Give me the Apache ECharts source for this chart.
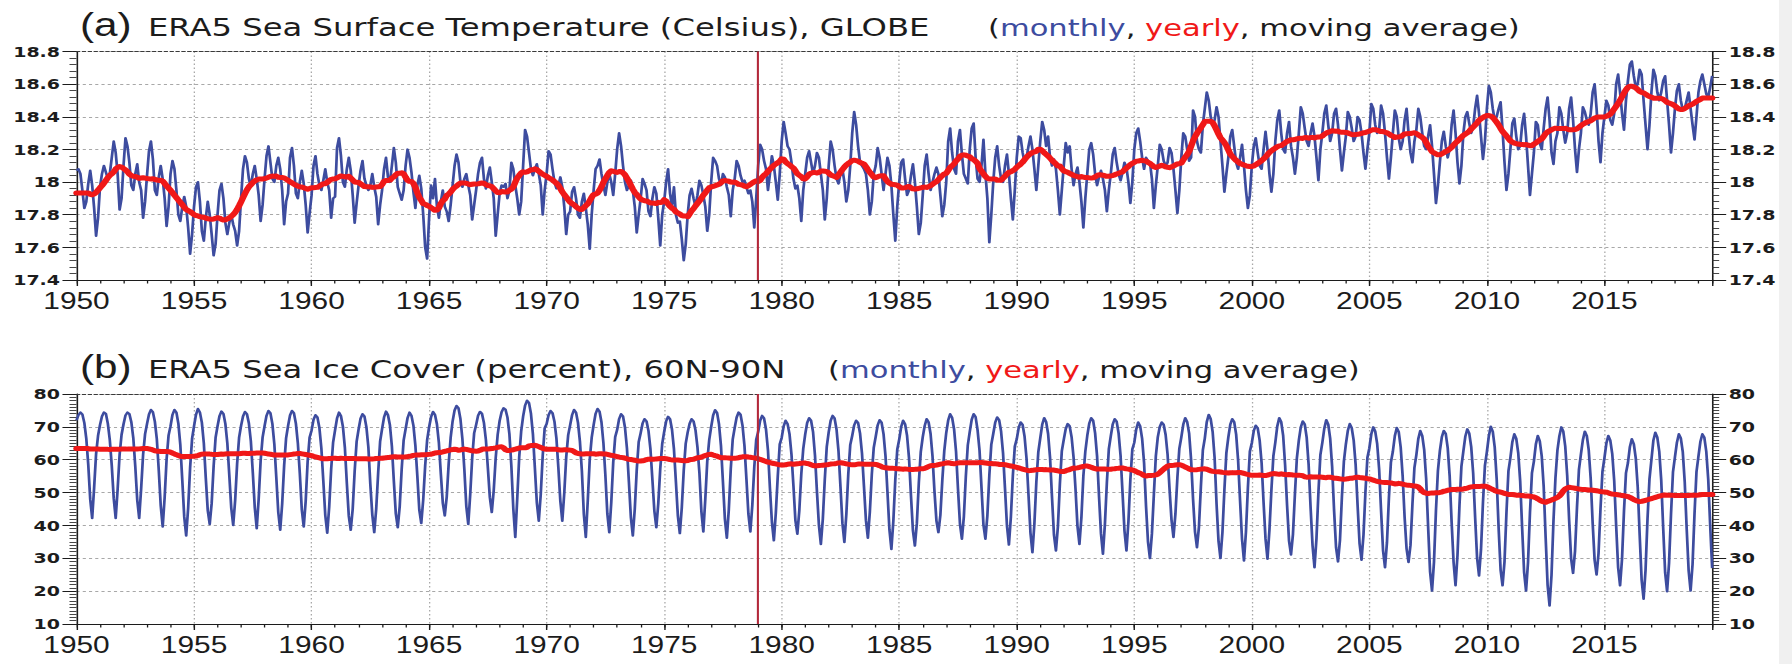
<!DOCTYPE html>
<html>
<head>
<meta charset="utf-8">
<title>ERA5 SST and Sea Ice</title>
<script src="https://cdn.jsdelivr.net/npm/echarts/dist/echarts.min.js"></script>
<style>
  html, body { margin: 0; padding: 0; background: #ffffff; width: 1792px; height: 664px; overflow: hidden; }
  /* the chart is laid out in narrower units and widened horizontally, giving the wide lettering */
  #chart { position: absolute; left: 0; top: 0; width: 1378.46px; height: 664px; transform: scaleX(1.3); transform-origin: 0 0; }
  #edge { position: absolute; left: 1779px; top: 0; width: 13px; height: 664px; background: #f0f0f0; }
</style>
</head>
<body>
<div id="chart"></div>
<div id="edge"></div>
<script>
// ---- data -------------------------------------------------------------
const FIRST_YEAR = 1950;
const MARKER_YEAR = 1979;          // start of the satellite era, drawn as a vertical line
const YEAR_LABEL_STEP = 5;

// ERA5 global sea surface temperature (deg C), one row per year, Jan..Dec (2019: Jan..Aug)
const sstMonthly = [
  [18.07, 18.08, 18.05, 17.95, 17.84, 17.88, 17.99, 18.07, 17.98, 17.84, 17.67, 17.78],
  [17.97, 18.05, 18.10, 18.06, 18.02, 18.05, 18.15, 18.25, 18.18, 18.05, 17.83, 17.90],
  [18.10, 18.27, 18.22, 18.12, 17.98, 17.95, 18.05, 18.11, 18.00, 17.95, 17.78, 17.88],
  [18.04, 18.19, 18.25, 18.14, 17.95, 17.92, 18.03, 18.10, 18.02, 17.90, 17.73, 17.85],
  [18.05, 18.13, 18.08, 17.95, 17.80, 17.76, 17.85, 17.91, 17.85, 17.72, 17.56, 17.68],
  [17.85, 17.97, 18.00, 17.88, 17.70, 17.64, 17.78, 17.88, 17.80, 17.68, 17.55, 17.62],
  [17.80, 17.95, 17.99, 17.90, 17.75, 17.68, 17.75, 17.80, 17.74, 17.70, 17.61, 17.70],
  [17.90, 18.08, 18.16, 18.12, 18.02, 17.97, 18.05, 18.10, 18.02, 17.92, 17.76, 17.86],
  [18.02, 18.16, 18.22, 18.12, 18.02, 18.00, 18.10, 18.15, 18.08, 17.95, 17.74, 17.88],
  [17.93, 18.15, 18.21, 18.10, 17.93, 17.90, 18.00, 18.07, 17.99, 17.86, 17.69, 17.81],
  [17.92, 18.10, 18.16, 18.05, 17.98, 17.95, 18.01, 18.08, 18.00, 17.95, 17.78, 17.90],
  [17.91, 18.21, 18.27, 18.16, 18.00, 17.97, 18.08, 18.15, 18.07, 17.92, 17.75, 17.87],
  [17.98, 18.07, 18.13, 18.02, 17.98, 17.95, 17.98, 18.05, 17.97, 17.91, 17.74, 17.86],
  [17.95, 18.08, 18.15, 18.03, 18.00, 18.10, 18.21, 18.12, 17.97, 17.93, 17.89, 17.95],
  [18.10, 18.20, 18.15, 18.06, 17.94, 17.84, 17.98, 18.04, 17.96, 17.80, 17.60, 17.53],
  [17.78, 17.98, 17.90, 18.02, 17.85, 17.78, 17.88, 17.95, 17.85, 17.82, 17.76, 17.86],
  [17.98, 18.10, 18.17, 18.12, 18.00, 17.97, 18.02, 18.05, 17.98, 17.92, 17.77, 17.86],
  [17.95, 18.05, 18.12, 18.15, 18.02, 17.96, 18.04, 18.09, 18.00, 17.90, 17.67, 17.80],
  [17.93, 17.98, 17.97, 17.99, 17.90, 17.95, 18.12, 18.08, 17.98, 17.90, 17.80, 17.88],
  [18.10, 18.32, 18.28, 18.18, 18.08, 18.04, 18.08, 18.11, 18.05, 17.98, 17.80, 17.95],
  [18.05, 18.19, 18.17, 18.08, 18.00, 17.96, 17.98, 18.03, 17.97, 17.85, 17.68, 17.80],
  [17.82, 17.94, 17.97, 17.90, 17.80, 17.78, 17.88, 17.93, 17.84, 17.74, 17.59, 17.80],
  [17.95, 18.08, 18.10, 18.14, 18.05, 17.98, 17.92, 18.00, 18.05, 18.00, 17.92, 18.05],
  [18.20, 18.30, 18.22, 18.10, 18.00, 17.95, 17.98, 18.01, 17.95, 17.85, 17.69, 17.80],
  [17.90, 18.02, 17.99, 17.95, 17.82, 17.79, 17.90, 17.97, 17.93, 17.78, 17.61, 17.80],
  [17.88, 18.00, 18.08, 17.93, 17.85, 17.97, 17.80, 17.75, 17.76, 17.65, 17.52, 17.62],
  [17.80, 17.92, 17.96, 17.90, 17.85, 17.92, 18.01, 17.98, 17.92, 17.85, 17.70, 17.80],
  [18.00, 18.15, 18.13, 18.10, 18.02, 17.98, 18.05, 18.03, 17.97, 17.92, 17.79, 17.95],
  [18.02, 18.13, 18.10, 18.04, 18.00, 18.01, 17.97, 17.93, 17.95, 17.88, 17.72, 17.90],
  [18.10, 18.23, 18.20, 18.13, 18.08, 17.95, 18.05, 18.16, 18.10, 18.00, 17.89, 18.05],
  [18.25, 18.37, 18.30, 18.22, 18.20, 18.12, 18.02, 17.96, 17.98, 17.90, 17.76, 17.95],
  [18.05, 18.15, 18.19, 18.12, 18.05, 18.10, 18.18, 18.15, 18.05, 17.95, 17.77, 17.90],
  [18.10, 18.25, 18.20, 18.10, 18.02, 17.99, 18.05, 18.08, 18.00, 17.88, 17.95, 18.10],
  [18.30, 18.43, 18.35, 18.22, 18.12, 18.10, 18.08, 18.05, 17.95, 17.80, 17.88, 18.05],
  [18.10, 18.21, 18.15, 18.05, 17.95, 18.05, 18.15, 18.10, 17.98, 17.80, 17.64, 17.85],
  [18.00, 18.12, 18.14, 18.02, 17.92, 17.95, 18.04, 18.11, 18.00, 17.85, 17.68, 17.75],
  [17.92, 18.10, 18.17, 18.05, 17.95, 18.00, 18.05, 18.09, 18.05, 17.92, 17.79, 17.86],
  [18.00, 18.25, 18.33, 18.18, 18.08, 18.05, 18.25, 18.32, 18.17, 18.05, 18.02, 17.99],
  [18.20, 18.33, 18.36, 18.15, 18.02, 18.00, 18.10, 18.26, 18.05, 17.90, 17.63, 17.80],
  [18.00, 18.15, 18.22, 18.10, 18.02, 18.00, 18.10, 18.17, 18.05, 17.90, 17.77, 17.95],
  [18.15, 18.28, 18.27, 18.18, 18.12, 18.15, 18.22, 18.28, 18.20, 18.08, 17.95, 18.10],
  [18.25, 18.37, 18.32, 18.22, 18.28, 18.15, 18.10, 18.14, 18.08, 17.95, 17.80, 17.95],
  [18.10, 18.24, 18.18, 18.22, 18.08, 17.98, 18.05, 18.09, 18.00, 17.88, 17.72, 17.90],
  [18.05, 18.20, 18.24, 18.17, 18.05, 17.98, 18.03, 18.07, 18.02, 17.95, 17.82, 17.95],
  [18.05, 18.17, 18.21, 18.12, 18.05, 18.01, 18.06, 18.12, 18.09, 18.00, 17.87, 18.00],
  [18.20, 18.30, 18.33, 18.25, 18.15, 18.08, 18.15, 18.13, 18.12, 18.02, 17.84, 17.98],
  [18.10, 18.23, 18.20, 18.13, 18.10, 18.12, 18.21, 18.18, 18.08, 17.95, 17.81, 17.95],
  [18.15, 18.30, 18.28, 18.20, 18.13, 18.15, 18.44, 18.40, 18.25, 18.20, 18.18, 18.35],
  [18.45, 18.55, 18.50, 18.40, 18.35, 18.38, 18.46, 18.40, 18.25, 18.10, 17.94, 18.05],
  [18.15, 18.28, 18.32, 18.22, 18.12, 18.08, 18.15, 18.23, 18.10, 17.95, 17.84, 17.92],
  [18.10, 18.22, 18.27, 18.18, 18.10, 18.08, 18.20, 18.31, 18.20, 18.05, 17.94, 18.05],
  [18.25, 18.38, 18.44, 18.30, 18.20, 18.18, 18.30, 18.37, 18.22, 18.15, 18.05, 18.15],
  [18.30, 18.46, 18.42, 18.33, 18.25, 18.22, 18.30, 18.36, 18.28, 18.15, 18.01, 18.20],
  [18.30, 18.42, 18.47, 18.35, 18.25, 18.30, 18.42, 18.45, 18.35, 18.20, 18.07, 18.18],
  [18.28, 18.43, 18.40, 18.33, 18.25, 18.28, 18.40, 18.38, 18.30, 18.18, 18.08, 18.20],
  [18.30, 18.48, 18.45, 18.35, 18.30, 18.32, 18.47, 18.42, 18.30, 18.15, 18.02, 18.15],
  [18.30, 18.44, 18.40, 18.27, 18.20, 18.25, 18.38, 18.45, 18.30, 18.18, 18.12, 18.25],
  [18.32, 18.45, 18.40, 18.30, 18.22, 18.20, 18.28, 18.35, 18.22, 18.05, 17.87, 17.98],
  [18.12, 18.25, 18.31, 18.22, 18.15, 18.20, 18.35, 18.44, 18.30, 18.12, 17.99, 18.10],
  [18.30, 18.40, 18.43, 18.36, 18.30, 18.34, 18.45, 18.53, 18.42, 18.28, 18.14, 18.25],
  [18.45, 18.59, 18.55, 18.45, 18.38, 18.40, 18.45, 18.49, 18.32, 18.12, 17.95, 18.05],
  [18.20, 18.36, 18.39, 18.28, 18.20, 18.22, 18.35, 18.42, 18.28, 18.10, 17.92, 18.05],
  [18.18, 18.37, 18.35, 18.24, 18.20, 18.33, 18.45, 18.52, 18.38, 18.18, 18.11, 18.25],
  [18.30, 18.46, 18.42, 18.32, 18.24, 18.30, 18.45, 18.52, 18.38, 18.20, 18.06, 18.20],
  [18.30, 18.46, 18.43, 18.38, 18.35, 18.42, 18.55, 18.60, 18.45, 18.25, 18.12, 18.30],
  [18.40, 18.50, 18.47, 18.38, 18.35, 18.42, 18.60, 18.66, 18.55, 18.42, 18.32, 18.50],
  [18.62, 18.72, 18.74, 18.65, 18.58, 18.60, 18.69, 18.66, 18.50, 18.35, 18.20, 18.35],
  [18.55, 18.69, 18.65, 18.55, 18.50, 18.55, 18.62, 18.65, 18.50, 18.35, 18.18, 18.30],
  [18.45, 18.56, 18.60, 18.50, 18.44, 18.45, 18.50, 18.55, 18.45, 18.35, 18.26, 18.40],
  [18.55, 18.62, 18.66, 18.60, 18.54, 18.52, 18.58, 18.65]
];

// ERA5 sea ice cover 60N-90N (percent), one row per year, Jan..Dec (2019: Jan..Aug)
const iceMonthly = [
  [72.0, 73.6, 74.4, 73.8, 71.2, 66.4, 58.5, 48.0, 42.2, 51.5, 61.8, 67.3],
  [70.6, 73.2, 74.4, 74.0, 71.0, 66.0, 58.2, 48.3, 42.2, 51.0, 61.5, 67.6],
  [70.8, 73.5, 74.4, 73.9, 71.4, 66.6, 58.0, 47.8, 42.2, 51.2, 61.6, 67.8],
  [70.9, 73.8, 75.2, 74.5, 71.6, 66.3, 56.7, 46.0, 39.6, 48.5, 60.2, 67.4],
  [70.2, 73.7, 75.2, 74.4, 71.0, 64.5, 53.8, 42.6, 36.9, 45.3, 57.6, 66.4],
  [70.2, 73.7, 75.5, 74.4, 71.3, 65.0, 54.4, 44.6, 40.4, 46.7, 58.0, 66.7],
  [70.2, 73.3, 74.7, 74.0, 70.9, 65.0, 55.3, 45.3, 40.1, 47.7, 58.8, 66.7],
  [70.3, 73.2, 74.6, 73.9, 71.1, 65.7, 56.1, 45.5, 39.1, 48.0, 59.7, 66.8],
  [70.2, 73.4, 74.9, 74.2, 70.9, 64.7, 54.6, 44.0, 38.6, 46.6, 58.2, 66.6],
  [70.3, 73.5, 74.9, 74.2, 71.0, 65.0, 55.8, 44.9, 39.6, 47.4, 59.5, 66.8],
  [68.9, 72.2, 73.6, 72.9, 69.7, 63.5, 53.5, 43.1, 37.7, 45.6, 57.1, 65.3],
  [69.0, 72.6, 74.4, 73.3, 70.1, 63.7, 52.9, 42.9, 38.6, 45.0, 56.5, 65.5],
  [69.2, 72.5, 73.9, 73.2, 69.9, 63.8, 52.5, 43.3, 37.9, 45.0, 56.0, 65.6],
  [69.4, 72.9, 74.7, 73.6, 70.5, 64.1, 53.5, 43.6, 39.4, 45.8, 57.1, 65.9],
  [69.3, 72.7, 74.4, 73.4, 70.4, 64.3, 55.0, 44.7, 40.7, 47.8, 58.2, 66.0],
  [69.9, 73.0, 74.6, 73.7, 70.8, 65.1, 55.6, 46.8, 43.0, 48.7, 58.8, 66.7],
  [71.7, 75.0, 76.4, 75.7, 72.4, 66.3, 57.0, 45.8, 40.4, 49.5, 60.5, 68.1],
  [70.6, 73.4, 74.6, 74.0, 71.2, 66.0, 57.5, 48.6, 44.0, 50.7, 60.5, 67.6],
  [71.8, 74.5, 75.7, 75.3, 72.9, 67.8, 58.0, 45.0, 36.4, 48.2, 60.8, 68.6],
  [73.2, 76.5, 78.0, 77.3, 74.0, 67.8, 57.5, 46.9, 41.4, 49.5, 61.2, 69.6],
  [70.9, 73.6, 74.9, 74.2, 71.6, 66.5, 57.5, 47.4, 41.4, 49.8, 60.8, 67.5],
  [70.5, 73.6, 75.2, 74.4, 71.3, 65.5, 56.5, 43.4, 36.4, 47.5, 60.0, 66.7],
  [70.6, 74.0, 75.5, 74.7, 71.4, 65.0, 55.2, 43.5, 37.9, 47.0, 59.2, 66.9],
  [69.1, 72.4, 73.9, 73.2, 69.8, 63.5, 53.2, 42.5, 36.9, 45.0, 56.9, 65.4],
  [68.1, 71.1, 72.4, 71.7, 68.8, 63.2, 53.9, 44.4, 39.4, 46.7, 57.2, 64.8],
  [68.5, 71.7, 73.1, 72.4, 69.2, 63.2, 53.2, 42.9, 37.6, 45.4, 56.8, 64.9],
  [68.3, 71.0, 72.4, 71.7, 69.0, 63.8, 56.0, 44.3, 38.1, 48.0, 59.5, 66.0],
  [70.0, 73.5, 75.1, 74.3, 70.8, 64.2, 53.3, 42.0, 36.2, 44.8, 57.2, 66.2],
  [69.7, 72.9, 74.4, 73.7, 70.4, 64.2, 54.1, 43.5, 38.1, 46.1, 57.7, 66.1],
  [68.5, 71.9, 73.4, 72.6, 69.2, 62.8, 51.3, 41.1, 35.4, 43.8, 55.0, 64.7],
  [66.7, 70.2, 71.9, 70.9, 67.8, 61.6, 52.0, 41.5, 37.4, 44.6, 55.6, 63.3],
  [67.7, 71.2, 72.7, 71.9, 68.5, 61.3, 50.3, 40.1, 34.3, 42.0, 54.0, 63.9],
  [68.4, 71.9, 73.4, 72.6, 69.2, 62.6, 51.8, 40.7, 34.9, 43.4, 55.7, 64.5],
  [67.3, 70.5, 71.9, 71.2, 68.0, 61.9, 51.9, 41.6, 36.2, 44.1, 55.5, 63.7],
  [67.0, 70.5, 72.1, 71.3, 67.8, 61.1, 50.1, 38.7, 32.8, 41.4, 54.0, 63.1],
  [66.2, 70.0, 71.9, 70.8, 67.3, 60.5, 49.0, 38.4, 33.8, 40.7, 52.9, 62.4],
  [66.9, 70.3, 72.4, 71.4, 67.9, 61.0, 50.3, 41.4, 37.9, 43.1, 53.8, 62.7],
  [68.2, 72.0, 73.9, 72.8, 69.3, 62.5, 51.1, 40.5, 35.9, 42.7, 54.9, 64.4],
  [68.5, 72.2, 73.9, 73.0, 69.0, 62.8, 51.5, 40.2, 35.9, 43.0, 55.2, 64.6],
  [67.9, 71.3, 72.9, 72.1, 68.6, 62.0, 51.2, 39.9, 34.1, 42.6, 55.1, 64.0],
  [66.3, 69.8, 71.4, 70.6, 67.0, 60.3, 49.2, 37.7, 31.8, 40.5, 53.2, 62.3],
  [66.6, 70.7, 72.7, 71.5, 67.9, 60.6, 48.5, 37.1, 32.3, 39.6, 52.5, 62.6],
  [66.1, 69.4, 70.9, 70.2, 66.9, 60.7, 51.0, 39.8, 34.3, 42.4, 55.0, 62.5],
  [67.3, 71.0, 72.7, 71.9, 68.1, 61.1, 48.8, 37.5, 31.3, 40.4, 53.0, 63.2],
  [67.2, 70.8, 72.4, 71.6, 68.0, 61.2, 49.9, 38.3, 32.3, 41.1, 54.0, 63.2],
  [65.2, 69.3, 71.4, 70.2, 66.4, 59.0, 45.8, 35.0, 30.0, 37.5, 49.5, 61.1],
  [66.9, 70.0, 71.4, 70.7, 67.6, 61.6, 51.0, 41.7, 36.4, 43.5, 54.5, 63.4],
  [66.8, 70.7, 72.7, 71.5, 68.0, 60.0, 48.0, 38.0, 33.3, 39.5, 51.8, 62.9],
  [66.5, 71.5, 73.7, 72.4, 68.5, 60.6, 46.5, 35.2, 30.0, 37.9, 50.8, 62.0],
  [66.8, 70.7, 72.4, 71.5, 67.7, 59.8, 47.5, 35.8, 29.3, 38.0, 51.5, 62.5],
  [65.1, 68.8, 70.4, 69.6, 65.9, 59.0, 47.0, 35.9, 29.8, 38.7, 50.8, 61.1],
  [65.3, 70.2, 72.7, 71.5, 67.3, 58.3, 46.1, 35.3, 31.1, 37.3, 49.5, 60.5],
  [65.9, 69.9, 71.7, 70.8, 66.8, 58.5, 45.5, 33.9, 27.2, 36.0, 50.0, 61.5],
  [65.2, 69.5, 72.1, 70.8, 66.5, 57.9, 44.5, 33.3, 29.0, 35.5, 48.8, 59.5],
  [64.7, 68.8, 70.9, 69.7, 65.9, 58.5, 46.1, 34.5, 29.5, 37.0, 50.2, 60.6],
  [63.5, 67.8, 69.9, 68.6, 64.8, 57.1, 44.3, 32.3, 27.2, 34.9, 48.6, 59.2],
  [62.5, 67.2, 69.7, 68.5, 63.8, 55.0, 42.5, 32.9, 28.8, 34.0, 46.5, 57.5],
  [61.5, 66.4, 68.8, 67.3, 63.0, 54.2, 39.6, 25.9, 20.1, 28.9, 44.5, 56.6],
  [62.7, 66.9, 68.8, 67.9, 63.6, 55.0, 41.0, 28.8, 21.7, 31.0, 46.0, 58.0],
  [62.6, 67.1, 69.3, 68.0, 63.9, 55.9, 42.5, 30.1, 24.7, 32.7, 47.0, 58.2],
  [62.4, 67.2, 70.1, 68.6, 63.8, 54.1, 39.1, 26.5, 21.7, 29.0, 44.0, 56.5],
  [60.6, 65.4, 67.8, 66.4, 62.1, 53.5, 39.2, 25.8, 20.1, 28.7, 44.0, 55.9],
  [59.5, 64.7, 67.3, 65.7, 61.1, 51.8, 36.3, 21.8, 15.6, 24.9, 41.5, 54.4],
  [62.8, 67.2, 69.9, 68.6, 64.1, 55.2, 41.5, 29.9, 25.5, 32.2, 45.5, 57.0],
  [61.6, 66.0, 68.6, 67.3, 62.9, 54.2, 40.7, 29.4, 25.0, 31.5, 45.1, 56.4],
  [60.5, 65.0, 67.3, 65.9, 61.8, 53.6, 39.9, 27.2, 21.7, 29.9, 44.5, 55.9],
  [59.0, 63.9, 66.3, 64.8, 60.5, 51.7, 37.1, 23.4, 17.6, 26.4, 42.0, 54.1],
  [60.0, 65.9, 68.3, 66.8, 62.5, 53.8, 39.3, 25.7, 19.9, 28.6, 43.5, 56.2],
  [60.8, 65.2, 67.8, 66.6, 62.4, 53.2, 39.0, 26.2, 20.1, 28.2, 43.6, 56.3],
  [61.0, 65.5, 67.8, 66.8, 62.5, 54.0, 40.0, 27.0]
];

// value-axis ranges and tick steps
const sstRange = { min: 17.4, max: 18.8, step: 0.2, minorSplit: 5 };
const iceRange = { min: 10, max: 80, step: 10, minorSplit: 10 };

// ---- derived series ----------------------------------------------------
function toPoints(rows) {
  const pts = [];
  rows.forEach((row, yi) => row.forEach((v, m) => pts.push([FIRST_YEAR + yi + m / 12, v])));
  return pts;
}

// centred 12-month running mean; the first/last complete value is held to the ends
function runningMean(pts) {
  const half = 6, n = pts.length;
  const avg = i => { let s = 0; for (let j = i - half; j < i + half; j++) s += pts[j][1]; return s / (2 * half); };
  const head = avg(half), tail = avg(n - half);
  return pts.map((p, i) => [p[0], +(i < half ? head : i > n - half ? tail : avg(i)).toFixed(4)]);
}

const sstPts = toPoints(sstMonthly);
const icePts = toPoints(iceMonthly);
const sstMean = runningMean(sstPts);
const iceMean = runningMean(icePts);
const lastTime = sstPts[sstPts.length - 1][0];

// ---- styling -------------------------------------------------------------
const BLUE = '#3d4c9f';
const RED = '#f01818';
const INK = '#1c1c1c';
const GRID_GREY = '#a8a8a8';

function xAxesFor(gridIndex) {
  const base = { type: 'value', gridIndex, min: FIRST_YEAR, max: lastTime };
  return [
    Object.assign({}, base, {
      position: 'bottom', interval: YEAR_LABEL_STEP,
      axisLine: { show: true, lineStyle: { color: INK, width: 1.2 } },
      axisTick: { show: true, length: 6, lineStyle: { color: INK, width: 1.1 } },
      axisLabel: {
        margin: 10, fontFamily: 'Liberation Sans, Arial, sans-serif', fontSize: 23, color: INK,
        formatter: v => (Math.abs(v - Math.round(v)) < 1e-6 && Math.round(v) % YEAR_LABEL_STEP === 0) ? String(Math.round(v)) : ''
      },
      splitLine: { show: true, lineStyle: { color: GRID_GREY, width: 1, type: [1.6, 2.4] } }
    }),
    Object.assign({}, base, {
      position: 'bottom', interval: 1,
      axisLine: { show: false },
      axisTick: { show: true, length: 3.5, lineStyle: { color: INK, width: 1 } },
      axisLabel: { show: false }, splitLine: { show: false }
    }),
    Object.assign({}, base, {
      position: 'top',
      axisLine: { show: true, lineStyle: { color: '#3a3a3a', width: 1, type: [2.5, 2] } },
      axisTick: { show: false }, axisLabel: { show: false }, splitLine: { show: false }
    })
  ];
}

function yAxesFor(gridIndex, r) {
  const base = {
    type: 'value', gridIndex, min: r.min, max: r.max, interval: r.step,
    axisLine: { show: true, lineStyle: { color: INK, width: 1.2 } },
    axisTick: { show: true, inside: false, length: 10.8, lineStyle: { color: INK, width: 1 } },
    minorTick: { show: true, splitNumber: r.minorSplit, length: 5.4, lineStyle: { color: '#333', width: 0.9 } },
    axisLabel: { margin: 12.7, fontFamily: 'DejaVu Sans, sans-serif', fontWeight: 'bold', fontSize: 14.6, color: INK }
  };
  return [
    Object.assign({}, base, { position: 'left', splitLine: { show: true, lineStyle: { color: GRID_GREY, width: 1, type: [2.4, 2.4] } } }),
    Object.assign({}, base, { position: 'right', splitLine: { show: false } })
  ];
}

function monthlySeries(data, xi, yi) {
  return {
    type: 'line', xAxisIndex: xi, yAxisIndex: yi, data, showSymbol: false, symbol: 'none',
    lineStyle: { color: BLUE, width: 2.1, join: 'round' }, z: 2,
    markLine: {
      silent: true, symbol: ['none', 'none'], label: { show: false },
      lineStyle: { color: '#b3283a', width: 1.6, type: 'solid' },
      data: [{ xAxis: MARKER_YEAR }]
    }
  };
}
function meanSeries(data, xi, yi) {
  return {
    type: 'line', xAxisIndex: xi, yAxisIndex: yi, data, showSymbol: false, symbol: 'none',
    lineStyle: { color: RED, width: 5, cap: 'round', join: 'round' }, z: 4
  };
}

const titleFont = 'DejaVu Sans, sans-serif';
const legendRich = {
  k: { fontFamily: titleFont, fontSize: 23.5, color: INK },
  m: { fontFamily: titleFont, fontSize: 23.5, color: BLUE },
  y: { fontFamily: titleFont, fontSize: 23.5, color: RED }
};
const legendText = '{k|(}{m|monthly}{k|, }{y|yearly}{k|, moving average)}';

function titlesFor(offsetY, tag, name, legendLeft) {
  return [
    { text: tag, left: 61.5, top: 8.2 + offsetY, padding: 0,
      textStyle: { fontFamily: 'Liberation Sans, Arial, sans-serif', fontSize: 32.5, fontWeight: 'normal', color: INK } },
    { text: name, left: 113.8, top: 14.7 + offsetY, padding: 0,
      textStyle: { fontFamily: titleFont, fontSize: 24.8, fontWeight: 'normal', color: INK } },
    { text: legendText, left: legendLeft, top: 15.8 + offsetY, padding: 0,
      textStyle: { fontFamily: titleFont, fontSize: 23.5, fontWeight: 'normal', color: INK, rich: legendRich } }
  ];
}

const chart = echarts.init(document.getElementById('chart'), null, { renderer: 'svg' });
chart.setOption({
  backgroundColor: '#ffffff',
  animation: false,
  title: [].concat(
    titlesFor(0, '(a)', 'ERA5 Sea Surface Temperature (Celsius), GLOBE', 760),
    titlesFor(342.5, '(b)', 'ERA5 Sea Ice Cover (percent), 60N-90N', 637)
  ),
  grid: [
    { left: 58.85, right: 60.96, top: 51.5, height: 228.5, outerBoundsMode: 'none' },
    { left: 58.85, right: 60.96, top: 394, height: 230, outerBoundsMode: 'none' }
  ],
  xAxis: [].concat(xAxesFor(0), xAxesFor(1)),
  yAxis: [].concat(yAxesFor(0, sstRange), yAxesFor(1, iceRange)),
  series: [
    monthlySeries(sstPts, 0, 0),
    meanSeries(sstMean, 0, 0),
    monthlySeries(icePts, 3, 2),
    meanSeries(iceMean, 3, 2)
  ]
});
</script>
</body>
</html>
